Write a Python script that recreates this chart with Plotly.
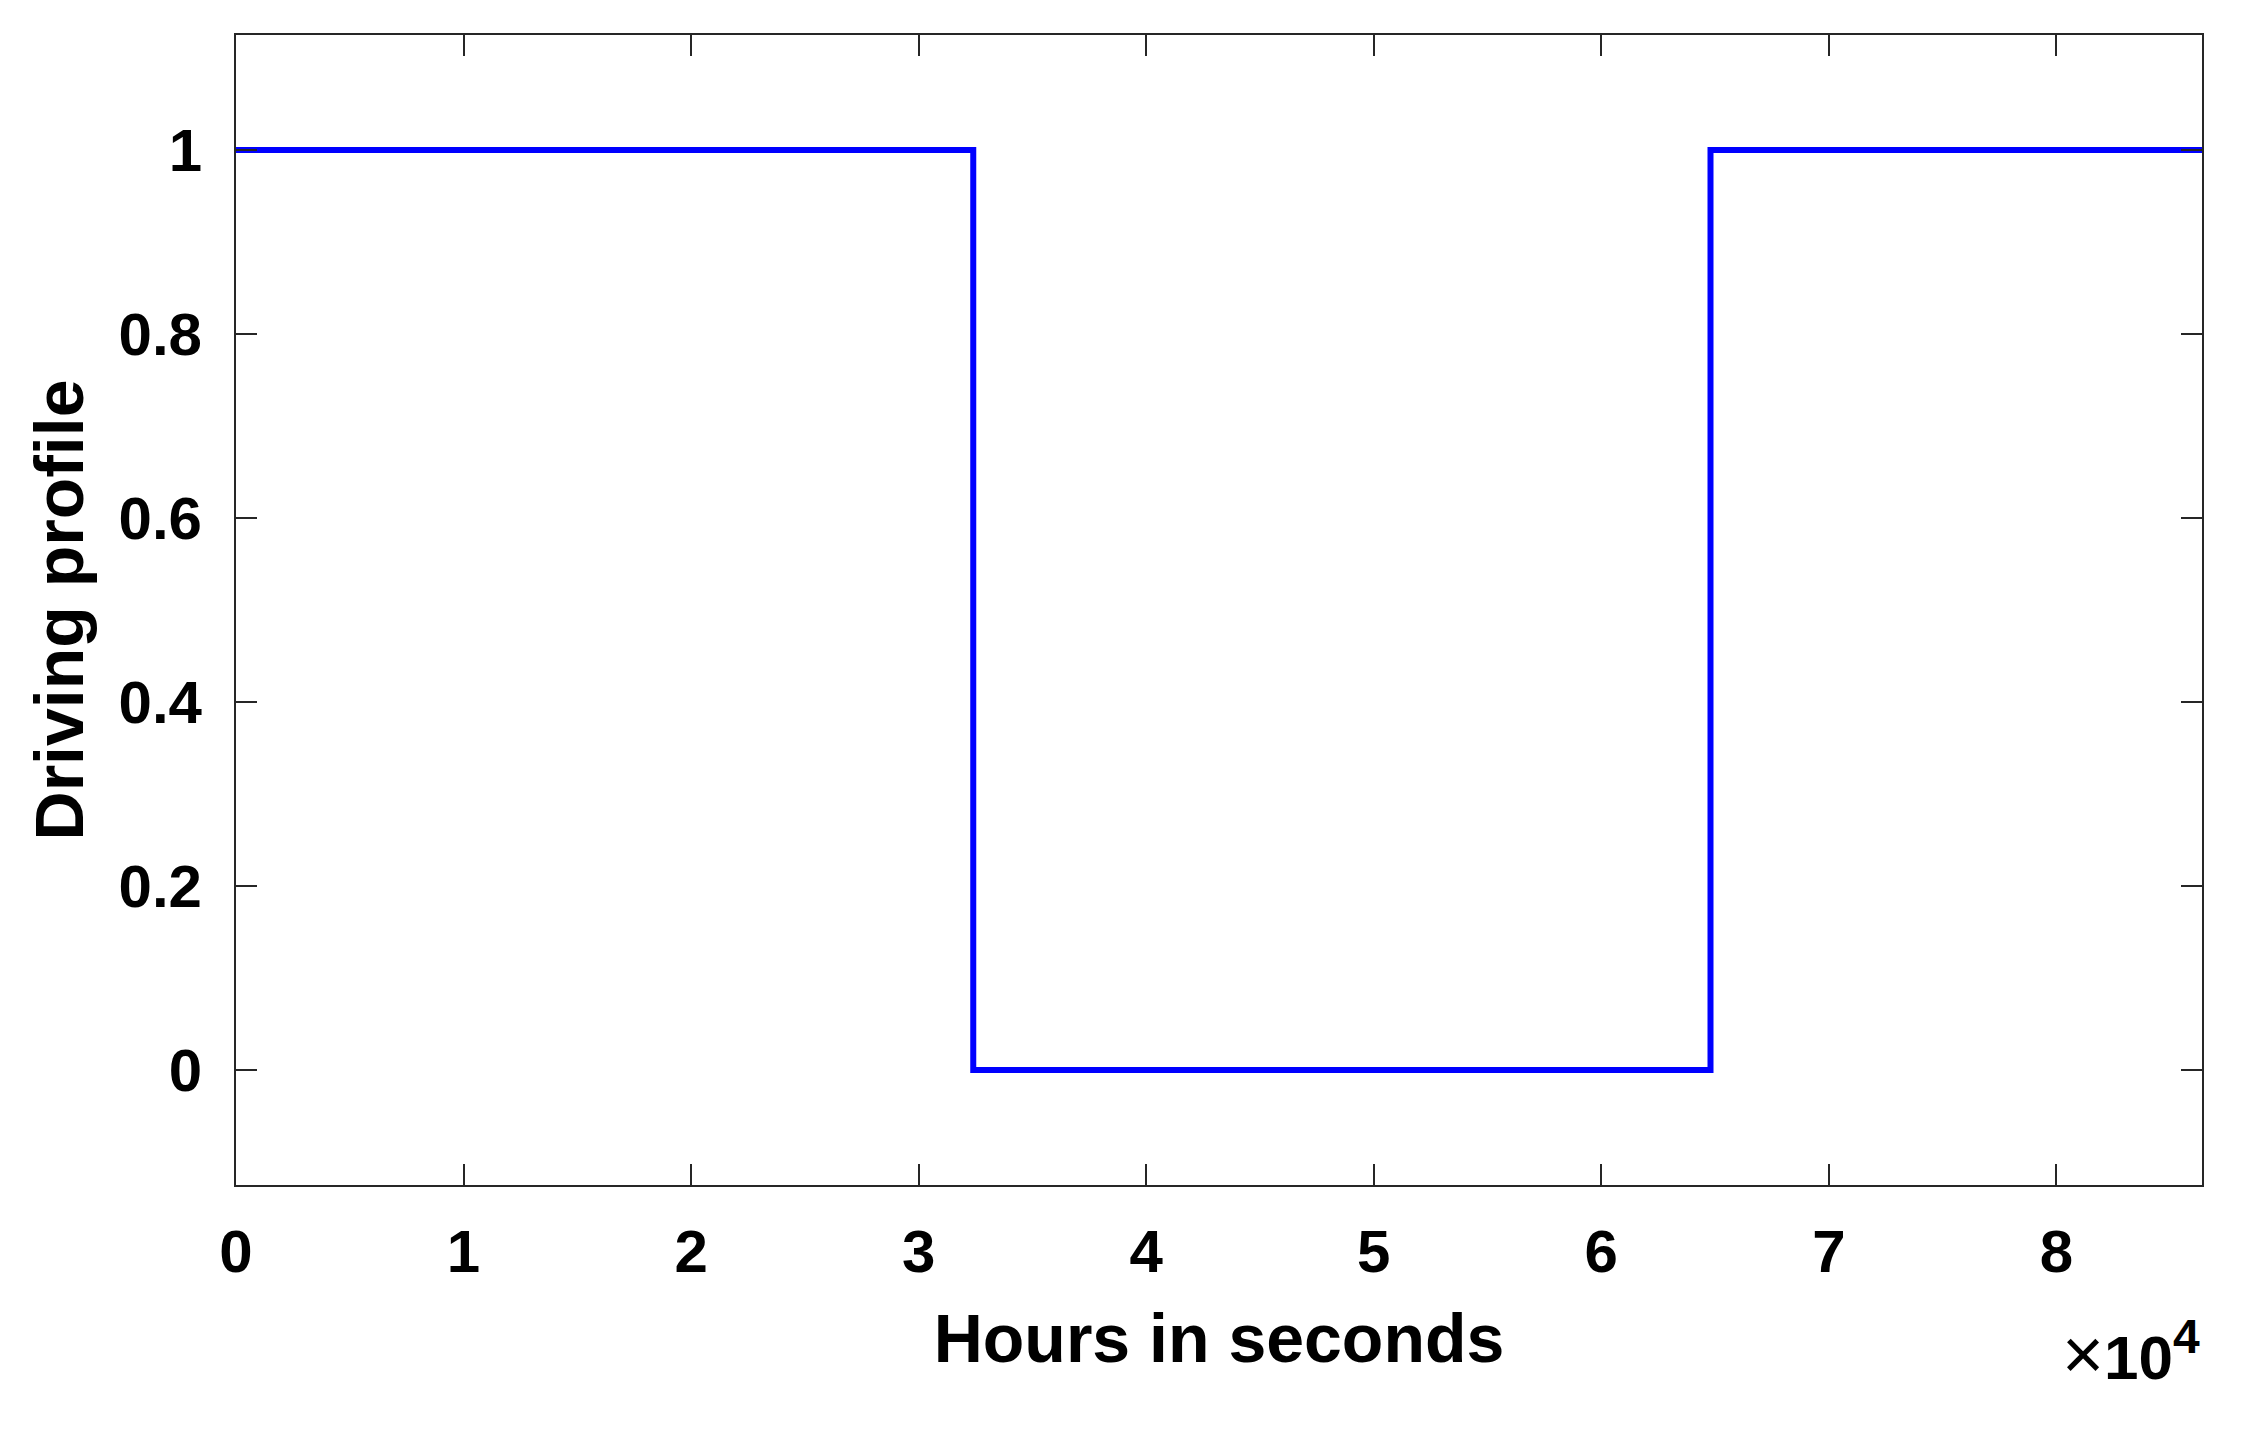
import plotly.graph_objects as go

# Data: driving profile over one day (seconds)
time_s = [0, 32400, 64800, 86400]
profile = [1, 0, 1, 1]

x_tick_vals = [0, 10000, 20000, 30000, 40000, 50000, 60000, 70000, 80000]
x_tick_text = ["0", "1", "2", "3", "4", "5", "6", "7", "8"]
y_tick_vals = [0, 0.2, 0.4, 0.6, 0.8, 1]
y_tick_text = ["0", "0.2", "0.4", "0.6", "0.8", "1"]

FONT = "Liberation Sans, Arial, Helvetica, sans-serif"
AXC = "#262626"

fig = go.Figure()
fig.add_trace(go.Scatter(
    x=time_s, y=profile, mode="lines", line_shape="hv",
    line=dict(color="#0000ff", width=6), showlegend=False,
))

common_axis = dict(
    showline=True, linecolor=AXC, linewidth=2, mirror="ticks",
    ticks="inside", ticklen=21, tickwidth=2, tickcolor=AXC,
    showgrid=False, zeroline=False,
    tickfont=dict(family=FONT, size=60, color="#000000", weight="bold"),
)

fig.update_xaxes(
    range=[0, 86400], tickvals=x_tick_vals, ticktext=x_tick_text,
    ticklabelstandoff=13,
    title=dict(text="Hours in seconds", standoff=30,
               font=dict(family=FONT, size=68, color="#000000", weight="bold")),
    **common_axis,
)
fig.update_yaxes(
    range=[-0.125, 1.125], tickvals=y_tick_vals, ticktext=y_tick_text,
    ticklabelstandoff=20,
    title=dict(text="Driving profile", standoff=13,
               font=dict(family=FONT, size=68, color="#000000", weight="bold")),
    **common_axis,
)

fig.add_annotation(
    xref="paper", yref="paper", x=1.0, y=-0.145, xanchor="right", yanchor="middle",
    text='<span style="font-weight:normal;font-size:72px">×</span>10<sup><span style="font-size:48px">4</span></sup>',
    showarrow=False,
    font=dict(family=FONT, size=62, color="#000000", weight="bold"),
)

# The page body adds an 8px offset, so the figure is sized to compensate.
fig.update_layout(
    width=2234, height=1425,
    margin=dict(l=228, r=40, t=27, b=248, autoexpand=False),
    paper_bgcolor="white", plot_bgcolor="white",
)

fig.write_html("out.html")
